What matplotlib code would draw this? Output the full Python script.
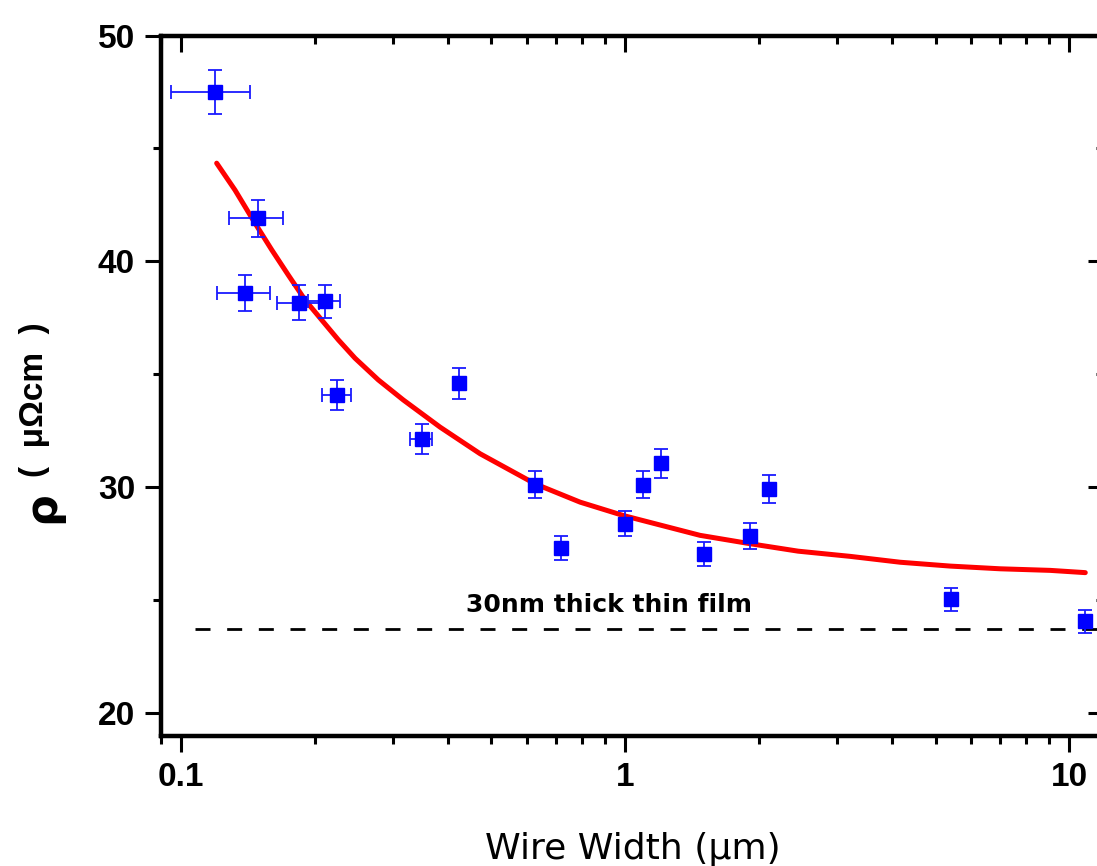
import matplotlib
matplotlib.use("Agg")
import matplotlib.pyplot as plt
from matplotlib.font_manager import FontProperties
from matplotlib.ticker import FixedLocator, FixedFormatter, NullFormatter, LogLocator

# Measured resistivity vs. wire width
width_um = [0.119, 0.149, 0.1395, 0.1846, 0.2106, 0.2242, 0.348, 0.4226,
            0.626, 0.719, 1.0, 1.10, 1.206, 1.502, 1.906, 2.105, 5.42, 10.87]
rho = [47.51, 41.91, 38.59, 38.18, 38.24, 34.10, 32.16, 34.61,
       30.13, 27.32, 28.40, 30.12, 31.07, 27.05, 27.84, 29.94, 25.05, 24.07]
rho_err = [0.97, 0.83, 0.79, 0.76, 0.74, 0.66, 0.66, 0.69,
           0.59, 0.52, 0.55, 0.60, 0.64, 0.53, 0.58, 0.63, 0.50, 0.49]
width_err = [0.024, 0.021, 0.019, 0.020, 0.017, 0.017, 0.020, 0.013,
             0.020, 0.020, 0.020, 0.020, 0.020, 0.020, 0.020, 0.020, 0.020, 0.020]

# Fitted curve
fit_width = [0.1203, 0.1323, 0.1468, 0.1601, 0.1744, 0.1902, 0.2074, 0.2261,
             0.2465, 0.2781, 0.3167, 0.3831, 0.4716, 0.6270, 0.7918, 0.99,
             1.475, 1.912, 2.453, 3.213, 4.164, 5.395, 6.993, 9.063, 10.87]
fit_rho = [44.35, 43.16, 41.69, 40.51, 39.40, 38.30, 37.41, 36.53,
           35.72, 34.76, 33.87, 32.67, 31.49, 30.16, 29.35, 28.76,
           27.88, 27.51, 27.18, 26.95, 26.69, 26.52, 26.40, 26.33, 26.23]

# Thin-film reference level
film_rho = 23.75
film_span = [0.1075, 12.0]
film_label = "30nm thick thin film"

x_ticks = [0.1, 1, 10]
x_ticklabels = ["0.1", "1", "10"]
y_ticks = [20, 30, 40, 50]
y_minor = [25, 35, 45]

XLIM = (0.09, 12.0)
YLIM = (19, 50)

fig = plt.figure(figsize=(10.97, 8.66), dpi=100)
ax = fig.add_axes([0.1465, 0.1501, 0.8602, 0.8089])

ax.set_xscale("log")
ax.set_xlim(*XLIM)
ax.set_ylim(*YLIM)

ax.plot(film_span, [film_rho, film_rho], color="black", lw=2.0,
        linestyle=(0, (5.4, 6.0)), zorder=1)
ax.plot(fit_width, fit_rho, color="#ff0000", lw=3.6, zorder=2,
        solid_capstyle="round", solid_joinstyle="round")
ax.errorbar(width_um, rho, yerr=rho_err, xerr=width_err, fmt="s",
            color="#0000ff", ms=9.5, mec="#0000ff", ecolor="#1a1aff",
            elinewidth=1.3, capsize=5, capthick=1.3, zorder=3)

ax.text(0.92, 24.8, film_label, ha="center", va="center",
        fontsize=18, fontweight="bold", family="DejaVu Sans")

tick_font = FontProperties(family="Liberation Sans", weight="bold", size=24)

ax.xaxis.set_major_locator(FixedLocator(x_ticks))
ax.xaxis.set_major_formatter(FixedFormatter(x_ticklabels))
ax.xaxis.set_minor_locator(LogLocator(base=10, subs=range(2, 10)))
ax.xaxis.set_minor_formatter(NullFormatter())
ax.yaxis.set_major_locator(FixedLocator(y_ticks))
ax.yaxis.set_minor_locator(FixedLocator(y_minor))

for lab in ax.get_xticklabels() + ax.get_yticklabels():
    lab.set_fontproperties(tick_font)

ax.tick_params(which="major", direction="out", length=11.5, width=2.2, pad=7)
ax.tick_params(which="minor", direction="out", length=6, width=2.2)
ax.tick_params(top=False, right=False)

for s in ax.spines.values():
    s.set_linewidth(3)

# inward ticks on top and right
ax_top = ax.twiny()
ax_top.set_xscale("log")
ax_top.set_xlim(*XLIM)
ax_top.xaxis.set_major_locator(FixedLocator(x_ticks))
ax_top.xaxis.set_minor_locator(LogLocator(base=10, subs=range(2, 10)))
ax_top.tick_params(which="major", direction="in", length=11.5, width=2.2,
                   labeltop=False)
ax_top.tick_params(which="minor", direction="in", length=6, width=2.2,
                   labeltop=False)

ax_right = ax.twinx()
ax_right.set_ylim(*YLIM)
ax_right.yaxis.set_major_locator(FixedLocator(y_ticks))
ax_right.yaxis.set_minor_locator(FixedLocator(y_minor))
ax_right.tick_params(which="major", direction="in", length=11.5, width=2.2,
                     labelright=False)
ax_right.tick_params(which="minor", direction="in", length=6, width=2.2,
                     labelright=False)
for a in (ax_top, ax_right):
    for s in a.spines.values():
        s.set_linewidth(3)

ax.set_xlabel("Wire Width (μm)", family="DejaVu Sans", fontsize=26,
              labelpad=28)

fig.text(0.0383, 0.4145, "ρ", rotation=90, ha="center", va="center",
         family="DejaVu Sans", fontweight="bold", fontsize=32)
fig.text(0.0319, 0.5381, "(  μΩcm  )", rotation=90, ha="center", va="center",
         family="Liberation Sans", fontweight="bold", fontsize=24)

fig.savefig("out.png", dpi=100, facecolor="white")
